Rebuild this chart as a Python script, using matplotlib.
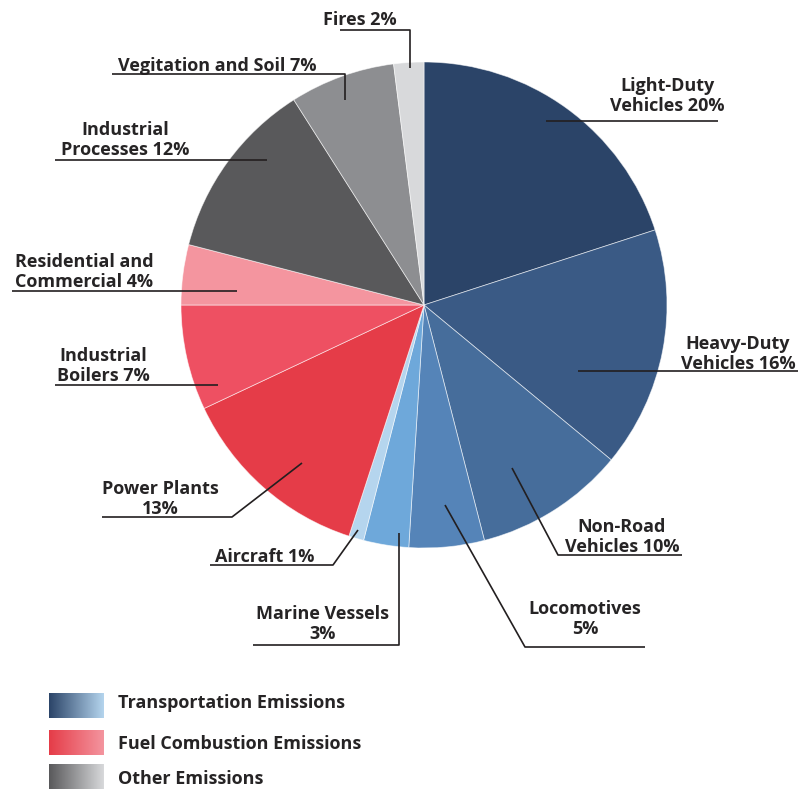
import matplotlib
matplotlib.use("Agg")
import matplotlib.pyplot as plt
import numpy as np
from matplotlib.colors import LinearSegmentedColormap

plt.rcParams["font.family"] = ["Open Sans", "DejaVu Sans"]

# data
sources = ["Light-Duty\nVehicles 20%", "Heavy-Duty\nVehicles 16%", "Non-Road\nVehicles 10%",
           "Locomotives\n5%", "Marine Vessels\n3%", "Aircraft 1%", "Power Plants\n13%",
           "Industrial\nBoilers 7%", "Residential and\nCommercial 4%", "Industrial\nProcesses 12%",
           "Vegitation and Soil 7%", "Fires 2%"]
shares = [20, 16, 10, 5, 3, 1, 13, 7, 4, 12, 7, 2]
slice_colors = ["#2b4468", "#3a5a85", "#466d9b", "#5584b8", "#6ea8da", "#b5d5ee",
                "#e53c48", "#ee5062", "#f4959f", "#59595b", "#8d8e91", "#d8d9db"]

groups = ["Transportation Emissions", "Fuel Combustion Emissions", "Other Emissions"]
group_gradients = [("#2b4468", "#b5d5ee"), ("#e53c48", "#f4959f"), ("#59595b", "#d8d9db")]

W, H = 800, 789
def Y(py):
    return H - py

# label layout: text centre and leader path, in pixel coords
label_pos = [(667, 96), (738, 354), (622, 537), (585, 619), (323, 624), (265, 557),
             (160, 499), (103, 366), (84, 272), (125, 140), (217, 66), (360, 20)]
leaders = [
    [(546, 121), (718, 121)],
    [(578, 371), (798, 371)],
    [(512, 468), (558, 555), (682, 555)],
    [(445, 505), (525, 647), (645, 647)],
    [(399, 533), (399, 645), (253, 645)],
    [(358, 530), (333, 565), (210, 565)],
    [(302, 463), (232, 517), (102, 517)],
    [(218, 385), (55, 385)],
    [(237, 291), (12, 291)],
    [(267, 160), (55, 160)],
    [(345, 100), (345, 74), (112, 74)],
    [(410, 68), (410, 30), (340, 30)],
]

fig = plt.figure(figsize=(8, 7.89), dpi=100)
ax = fig.add_axes([0, 0, 1, 1])

ax.pie(shares, colors=slice_colors, startangle=90, counterclock=False,
       center=(424, Y(305)), radius=243,
       wedgeprops=dict(edgecolor=(1, 1, 1, 0.6), linewidth=0.6))

txt_color = "#262425"
for lab, (tx, ty), path in zip(sources, label_pos, leaders):
    xs = [p[0] for p in path]
    ys = [Y(p[1]) for p in path]
    ax.plot(xs, ys, color="#231f20", lw=1.2, solid_capstyle="butt", zorder=5)
    ax.text(tx, Y(ty), lab, ha="center", va="center", multialignment="center",
            fontsize=13, fontweight="bold", color=txt_color, linespacing=1.15)

# legend with gradient swatches
legend_y = [705, 742, 777]
legend_text_y = [703, 744, 779]
for name, (c0, c1), ly, ty in zip(groups, group_gradients, legend_y, legend_text_y):
    cmap = LinearSegmentedColormap.from_list(name, [c0, c1])
    grad = np.linspace(0, 1, 256).reshape(1, -1)
    ax.imshow(grad, cmap=cmap, aspect="auto",
              extent=(49, 104, Y(ly + 12.5), Y(ly - 12.5)), zorder=3)
    ax.text(118, Y(ty), name, ha="left", va="center", fontsize=13,
            fontweight="bold", color=txt_color)

ax.set_xlim(0, W)
ax.set_ylim(0, H)
ax.set_aspect("auto")
ax.axis("off")

fig.savefig("out.png", dpi=100)
